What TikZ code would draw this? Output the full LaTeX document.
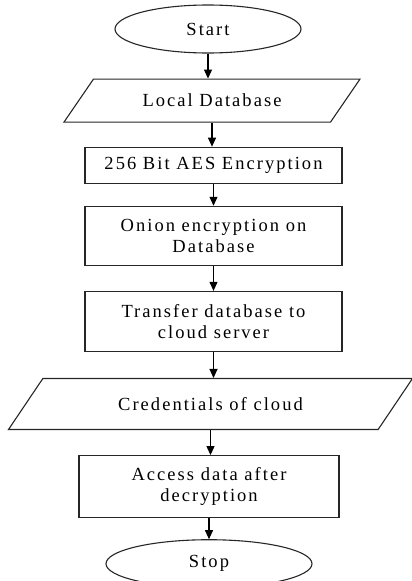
\documentclass[tikz,border=0pt]{standalone}
\usepackage{fontspec}
\setmainfont{Liberation Serif}[LetterSpace=11]
\usetikzlibrary{arrows.meta,positioning,shapes.geometric}

\tikzset{
  chart style/.style={
    x=1pt, y=1pt,
    node distance=24pt,
    font=\fontsize{18.5}{21}\selectfont,
  },
  chart line/.style={
    draw=black!85,
    line width=1.1pt,
  },
  terminal node/.style={
    chart line,
    ellipse,
    inner sep=0pt,
    minimum width=#1,
    minimum height=48pt,
  },
  process node/.style={
    chart line,
    rectangle,
    align=center,
    inner sep=2pt,
    minimum width=257pt,
    minimum height=#1,
  },
  data node/.style={
    chart line,
    trapezium,
    trapezium stretches body,
    inner sep=2pt,
  },
  flow/.style={
    line width=1.1pt,
    -{Triangle[length=9pt,width=8pt]},
  },
}

\begin{document}
\begin{tikzpicture}[chart style]
  \useasboundingbox (0,0) rectangle (412,-581);
  \node[terminal node=186pt] (start) at (208,-29) {Start};
  \node[data node, trapezium left angle=30, trapezium right angle=150,
    minimum width=296pt, minimum height=43pt,
    below=25pt of start, xshift=4pt] (localdb) {Local Database};
  \node[process node=36pt, below=24pt of localdb, xshift=1.5pt] (aes)
    {256 Bit AES Encryption};
  \node[process node=59pt, below=22pt of aes] (onion)
    {Onion encryption on\\Database};
  \node[process node=60pt, below=25pt of onion] (transfer)
    {Transfer database to\\cloud server};
  \node[data node, trapezium left angle=26.6, trapezium right angle=153.4,
    minimum width=404pt, minimum height=51pt,
    below=26pt of transfer, xshift=-3pt] (creds) {Credentials of cloud};
  \node[process node=62pt, minimum width=260pt, below=25pt of creds,
    xshift=-1.5pt] (access) {Access data after\\decryption};
  \node[terminal node=206pt, below=21pt of access] (stop) {Stop};

  \foreach \a/\b in {start/localdb, localdb/aes, aes/onion, onion/transfer,
    transfer/creds, creds/access, access/stop}
    \draw[flow] (\a.south) -- (\a.south |- \b.north);
\end{tikzpicture}
\end{document}
